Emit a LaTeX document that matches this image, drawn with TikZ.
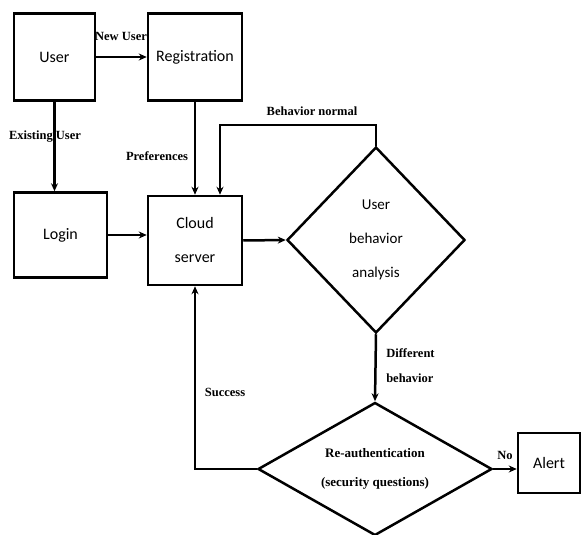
\documentclass[tikz,border=0pt]{standalone}
\usepackage{fontspec}
\setmainfont{Liberation Serif}
\newfontfamily\boxfont{Carlito}
\usetikzlibrary{shapes.geometric,arrows.meta}
\begin{document}
\begin{tikzpicture}[x=1pt,y=-1pt,
  line width=2.5pt,
  box/.style={draw,rectangle,inner sep=2pt,align=center,font=\boxfont\fontsize{16}{34}\selectfont},
  dia/.style={draw,diamond,inner sep=0pt,align=center},
  arr/.style={line width=2.5pt,-{Stealth[length=8pt,width=7pt]}},
  lbl/.style={font=\bfseries\fontsize{12.5}{25}\selectfont,inner sep=1pt}]
\useasboundingbox (0,0) rectangle (582,535);
\node[box,minimum width=81pt,minimum height=87pt] (user) at (54.5,57) {User};
\node[box,minimum width=94pt,minimum height=87pt] (reg) at (195,57) {Registration};
\node[box,minimum width=93pt,minimum height=85pt] (login) at (60.5,235) {Login};
\node[box,minimum width=94pt,minimum height=89pt] (cloud) at (195,240.5) {Cloud\\server};
\node[dia,minimum width=178pt,minimum height=186pt,font=\boxfont\fontsize{15}{34}\selectfont] (uba) at (376,240) {User\\behavior\\analysis};
\node[dia,minimum width=234pt,minimum height=133pt,aspect=1.75,font=\bfseries\fontsize{13}{29}\selectfont] (reauth) at (375,469) {Re-authentication\\(security questions)};
\node[box,minimum width=62pt,minimum height=60pt] (alert) at (549,463) {Alert};
\coordinate (bn) at (220,125);
\draw[arr] (user.east) -- (reg.west);
\draw[arr] (user.south) -- (login.north -| user.south);
\draw[arr] (reg.south) -- (cloud.north);
\draw[arr] (login.east) -- (login.east -| cloud.west);
\draw[arr] (cloud.east) -- (uba.west);
\draw[arr] (uba.north) |- (bn) -- (bn |- cloud.north);
\draw[arr] (uba.south) -- (reauth.north);
\draw[arr] (reauth.west) -| (cloud.south);
\draw[arr] (reauth.east) -- (reauth.east -| alert.west);
\node[lbl] (lnew) at (121,36) {New User};
\node[lbl] (lexist) at (45,137) {Existing User};
\node[lbl] (lpref) at (157,156) {Preferences};
\node[lbl] (lnorm) at (312,111) {Behavior normal};
\node[lbl,align=left,anchor=west] (ldiff) at (384,366) {Different\\behavior};
\node[lbl] (lsucc) at (225,392) {Success};
\node[lbl] (lno) at (505,455) {No};
\end{tikzpicture}
\end{document}
